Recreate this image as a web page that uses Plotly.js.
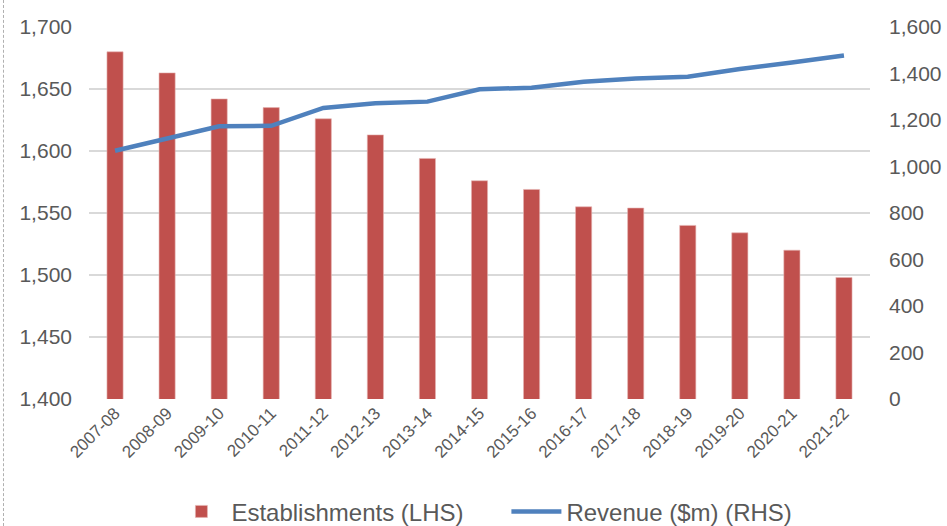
<!DOCTYPE html>
<html><head><meta charset="utf-8">
<script src="https://cdn.plot.ly/plotly-3.0.1.min.js"></script>
<style>html,body{margin:0;padding:0;background:#fff;}
#wrap{position:relative;width:947px;height:526px;}
#chart{width:947px;height:526px;}
#dash{position:absolute;left:3px;top:0;width:0;height:526px;border-left:1px dashed #b0b0b0;}
</style></head>
<body><div id="wrap"><div id="chart"></div><div id="dash"></div></div>
<script>
const categories = ["2007-08","2008-09","2009-10","2010-11","2011-12","2012-13","2013-14","2014-15","2015-16","2016-17","2017-18","2018-19","2019-20","2020-21","2021-22"];
const establishments = [1680,1663,1642,1635,1626,1613,1594,1576,1569,1555,1554,1540,1534,1520,1498];
const revenue = [1068,1121,1173,1175,1252,1272,1279,1332,1339,1365,1379,1386,1419,1447,1477];

const FONT = "Liberation Sans, Arial, sans-serif";
const tickFont = {family:FONT, size:21, color:"#595959"};
const data = [
  {type:"bar", x:categories, y:establishments, name:"Establishments (LHS)",
   marker:{color:"#C0504D", line:{color:"#E6B5B4", width:0.6}}, yaxis:"y"},
  {type:"scatter", mode:"lines", x:categories, y:revenue, name:"Revenue ($m) (RHS)",
   line:{color:"#4F81BD", width:4.5}, yaxis:"y2"}
];
const layout = {
  width:947, height:526,
  margin:{l:89, r:77, t:27, b:127},
  paper_bgcolor:"#fff", plot_bgcolor:"#fff",
  bargap:0.69,
  showlegend:true,
  legend:{orientation:"h", x:0.181, xanchor:"left", xref:"container", yref:"container", y:0.027, yanchor:"middle",
    font:{family:FONT, size:24, color:"#595959"},
    itemwidth:50, entrywidth:270, entrywidthmode:"pixels", traceorder:"normal"},
  xaxis:{type:"category", tickangle:-45, automargin:false, tickfont:{family:FONT, size:17, color:"#595959"},
    showgrid:false, showline:false, ticks:"", fixedrange:true},
  yaxis:{range:[1400,1700], dtick:50, tickformat:",d", tickfont:tickFont, automargin:false,
    showgrid:true, gridcolor:"#D9D9D9", gridwidth:1.5, zeroline:false, showline:false, ticks:"", ticklabelstandoff:16},
  yaxis2:{range:[0,1600], dtick:200, tickformat:",d", tickfont:tickFont, overlaying:"y", side:"right", automargin:false,
    showgrid:false, zeroline:false, showline:false, ticks:"", ticklabelstandoff:18}
};
Plotly.newPlot("chart", data, layout, {displayModeBar:false, staticPlot:true});
</script></body></html>
